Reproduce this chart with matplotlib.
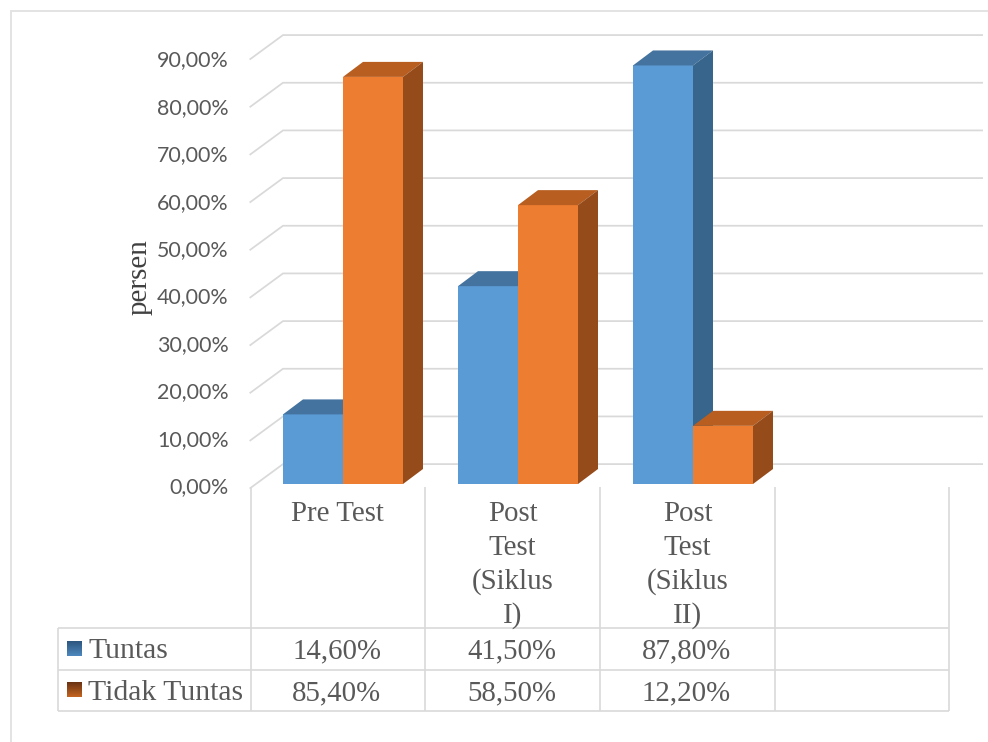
import numpy as np
import matplotlib
matplotlib.use('Agg')
import matplotlib.pyplot as plt
from matplotlib.patches import Polygon

categories = ['Pre Test', 'Post\nTest\n(Siklus\nI)', 'Post\nTest\n(Siklus\nII)', '']
tuntas = [14.6, 41.5, 87.8]
tidak_tuntas = [85.4, 58.5, 12.2]
tuntas_labels = ['14,60%', '41,50%', '87,80%']
tidak_labels = ['85,40%', '58,50%', '12,20%']
y_ticks = [0, 10, 20, 30, 40, 50, 60, 70, 80, 90]
y_labels = ['0,00%', '10,00%', '20,00%', '30,00%', '40,00%', '50,00%',
            '60,00%', '70,00%', '80,00%', '90,00%']

W, H = 988, 742
GRID = '#d9d9d9'
TEXT = '#595959'
SERIF = 'Liberation Serif'
TABLE_FS = 20.8

fig = plt.figure(figsize=(W / 100, H / 100), dpi=100, facecolor='white')

# kertas: koordinat piksel, untuk bingkai dan tabel
bg = fig.add_axes([0, 0, 1, 1], zorder=0)
bg.set_xlim(0, W)
bg.set_ylim(H, 0)
bg.axis('off')

# sumbu utama: 0% di y=484, satu kategori = 175 piksel
px_y = 4.767   # piksel per 1%
left, right, base = 250.5, 950.5, 484
top = base - 100 * px_y
ax = fig.add_axes([left / W, 1 - base / H, (right - left) / W, (base - top) / H], zorder=1)
ax.set_xlim(0, 4)
ax.set_ylim(0, 100)
ax.axis('off')

px_x = 175.0
# dinding belakang
wall_dx, wall_dy = 32.5 / px_x, 24.5 / px_y
front_y = -4.6 / px_y
for v in y_ticks:
    y = v + front_y
    ax.plot([-0.005, wall_dx, 4 + wall_dx], [y, y + wall_dy, y + wall_dy],
            color=GRID, lw=1.25, clip_on=False, zorder=1, solid_joinstyle='miter',
            solid_capstyle='butt')

# batang 3D
bar_w = 60 / px_x
dep_x, dep_y = 20 / px_x, 15 / px_y
start = 32.5 / px_x


def bar3d(x, v, front, top_c, side):
    ax.bar(x, v, width=bar_w, align='edge', color=front, zorder=3, clip_on=False)
    ax.add_patch(Polygon([(x, v), (x + dep_x, v + dep_y), (x + bar_w + dep_x, v + dep_y),
                          (x + bar_w, v)], closed=True, fc=top_c, ec='none', zorder=3, clip_on=False))
    ax.add_patch(Polygon([(x + bar_w, 0), (x + bar_w + dep_x, dep_y), (x + bar_w + dep_x, v + dep_y),
                          (x + bar_w, v)], closed=True, fc=side, ec='none', zorder=3, clip_on=False))


for i in range(3):
    bar3d(i + start, tuntas[i], '#5b9bd5', '#44739f', '#37658b')
    bar3d(i + start + bar_w, tidak_tuntas[i], '#ed7d31', '#b75e20', '#964b1b')

# label sumbu y
for v, lab in zip(y_ticks, y_labels):
    bg.text(228.5, 487 - v * 4.74, lab, ha='right', va='center', fontsize=15.4, color=TEXT,
            family='Lato')

bg.text(140, 277, 'persen', rotation=90, ha='center', va='center', fontsize=21,
        family=SERIF, color='#404040')

# bingkai luar
bg.plot([10.5, 10.5, W], [H, 10.5, 10.5], color='#e0e0e0', lw=1.3, solid_joinstyle='miter')

# tabel data
col_x = [250.5, 425, 600, 775, 949]
row_y = [628, 669.5, 711]
for x in col_x:
    bg.plot([x, x], [487, row_y[-1]], color=GRID, lw=1.2, solid_capstyle='butt')
for y in row_y:
    bg.plot([58, col_x[-1]], [y, y], color=GRID, lw=1.2, solid_capstyle='butt')
bg.plot([58, 58], [row_y[0], row_y[-1]], color=GRID, lw=1.2, solid_capstyle='butt')

# teks tabel ditulis pada garis dasar supaya baris-barisnya sejajar
line_ys = [521, 555, 589, 623]
row_base = [658, 700]
for i, cat in enumerate(categories):
    cx = (col_x[i] + col_x[i + 1]) / 2
    for y, part in zip(line_ys, cat.split('\n')):
        bg.text(cx, y, part, ha='center', va='baseline', fontsize=TABLE_FS, family=SERIF, color=TEXT)
    if i < 3:
        bg.text(cx - 1, row_base[0], tuntas_labels[i], ha='center', va='baseline', fontsize=TABLE_FS,
                family=SERIF, color=TEXT)
        bg.text(cx - 1, row_base[1], tidak_labels[i], ha='center', va='baseline', fontsize=TABLE_FS,
                family=SERIF, color=TEXT)

bg.text(88, row_base[0], 'Tuntas', ha='left', va='baseline', fontsize=21.4, family=SERIF, color=TEXT)
bg.text(88, row_base[1], 'Tidak Tuntas', ha='left', va='baseline', fontsize=21.4, family=SERIF, color=TEXT)

# kotak legenda bergradasi
grad = np.linspace(0, 1, 16).reshape(-1, 1)
for y0, c1, c2 in [(641, (0.18, 0.34, 0.50), (0.30, 0.53, 0.74)),
                   (682, (0.42, 0.20, 0.07), (0.76, 0.39, 0.13))]:
    img = np.array(c1) + grad[..., None] * (np.array(c2) - np.array(c1))
    bg.imshow(img, extent=(67, 82, y0 + 15, y0), aspect='auto', interpolation='bilinear', zorder=2)
bg.set_xlim(0, W)
bg.set_ylim(H, 0)

fig.savefig('out.png', dpi=100, facecolor='white')
